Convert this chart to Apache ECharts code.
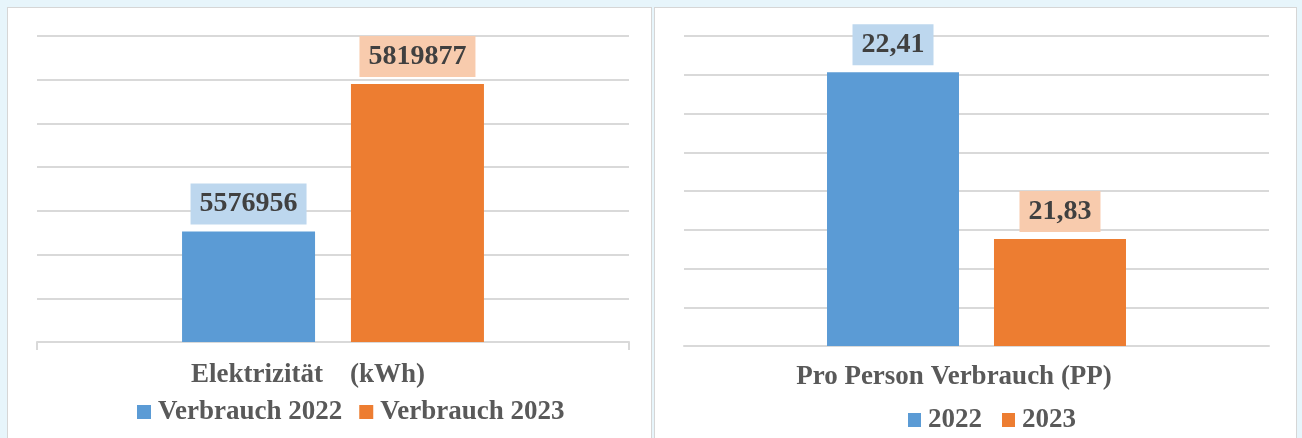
<!DOCTYPE html>
<html>
<head>
<meta charset="utf-8">
<script src="https://cdn.jsdelivr.net/npm/echarts/dist/echarts.min.js"></script>
<style>
  html, body { margin: 0; padding: 0; background: #e7f5fb; }
  .panel { position: absolute; top: 7px; height: 440px; background: #fff; border: 1px solid #d6d6d6; box-sizing: border-box; }
  #chart { position: absolute; left: 0; top: 0; width: 1302px; height: 438px; }
</style>
</head>
<body>
<div class="panel" style="left:7px;width:645px"></div>
<div class="panel" style="left:654px;width:643px"></div>
<div id="chart"></div>
<script>
// linke Grafik: Elektrizität
const leftCategories = ['Elektrizität    (kWh)']
const leftNames = ['Verbrauch 2022', 'Verbrauch 2023']
const leftValues = [5576956, 5819877]

// rechte Grafik: Verbrauch pro Person
const rightCategories = ['Pro Person Verbrauch (PP)']
const rightNames = ['2022', '2023']
const rightValues = [22.41, 21.83]

const barColors = ['#5b9bd5', '#ed7d31']
const labelBg = ['#bdd7ee', '#f8cbad']
const serif = "'Liberation Serif', 'Times New Roman', serif"
const gridColor = '#d9d9d9'

const chart = echarts.init(document.getElementById('chart'))

// Datenbeschriftung über dem Balken
function barLabel(i, fmt) {
  return {
    show: true,
    position: 'top',
    distance: 7,
    formatter: fmt,
    color: '#404040',
    fontFamily: serif,
    fontWeight: 'bold',
    fontSize: 28,
    lineHeight: 29,
    backgroundColor: labelBg[i],
    padding: [6, 9, 6, 9],
  }
}

function valueAxis(gridIndex, min, interval, steps) {
  return {
    type: 'value',
    gridIndex: gridIndex,
    min: min,
    max: min + interval * steps,
    interval: interval,
    axisLabel: { show: false },
    axisLine: { show: false },
    axisTick: { show: false },
    splitLine: { lineStyle: { color: gridColor, width: 2 } },
  }
}

const option = {
  animation: false,
  color: barColors,
  grid: [
    { left: 37, top: 36, width: 592, height: 306 },
    { left: 684, top: 36, width: 585, height: 310 },
  ],
  xAxis: [
    {
      type: 'category',
      gridIndex: 0,
      data: leftCategories,
      axisLine: { lineStyle: { color: gridColor, width: 2 } },
      axisTick: { show: true, length: 8, lineStyle: { color: gridColor, width: 2 } },
      axisLabel: {
        margin: 18,
        color: '#595959',
        fontFamily: serif,
        fontWeight: 'bold',
        fontSize: 27,
        lineHeight: 30,
        padding: [0, 50, 0, 0],
      },
    },
    {
      type: 'category',
      gridIndex: 1,
      data: rightCategories,
      axisLine: { lineStyle: { color: gridColor, width: 2 } },
      axisTick: { show: false },
      axisLabel: {
        margin: 16,
        color: '#595959',
        fontFamily: serif,
        fontWeight: 'bold',
        fontSize: 27,
        lineHeight: 30,
        padding: [0, 45, 0, 0],
      },
    },
  ],
  yAxis: [
    valueAxis(0, 5395200, 71936, 7),
    valueAxis(1, 21.45705, 0.13495, 8),
  ],
  legend: [
    {
      data: leftNames,
      left: 137,
      top: 398,
      padding: 0,
      itemWidth: 14,
      itemHeight: 14,
      itemGap: 17,
      icon: 'rect',
      textStyle: { color: '#595959', fontFamily: serif, fontWeight: 'bold', fontSize: 27, lineHeight: 28, padding: [0, 0, 0, 2] },
    },
    {
      data: rightNames,
      left: 908,
      top: 405,
      padding: 0,
      itemWidth: 13,
      itemHeight: 14,
      itemGap: 20,
      icon: 'rect',
      textStyle: { color: '#595959', fontFamily: serif, fontWeight: 'bold', fontSize: 27, lineHeight: 30, padding: [0, 0, 0, 2] },
    },
  ],
  series: [
    {
      name: leftNames[0], type: 'bar', xAxisIndex: 0, yAxisIndex: 0,
      data: [leftValues[0]], barWidth: 133, barGap: '27%',
      itemStyle: { color: barColors[0] },
      label: barLabel(0, p => String(p.value)),
    },
    {
      name: leftNames[1], type: 'bar', xAxisIndex: 0, yAxisIndex: 0,
      data: [leftValues[1]], barWidth: 133, barGap: '27%',
      itemStyle: { color: barColors[1] },
      label: barLabel(1, p => String(p.value)),
    },
    {
      name: rightNames[0], type: 'bar', xAxisIndex: 1, yAxisIndex: 1,
      data: [rightValues[0]], barWidth: 132, barGap: '26.5%',
      itemStyle: { color: barColors[0] },
      label: barLabel(0, p => p.value.toFixed(2).replace('.', ',')),
    },
    {
      name: rightNames[1], type: 'bar', xAxisIndex: 1, yAxisIndex: 1,
      data: [rightValues[1]], barWidth: 132, barGap: '26.5%',
      itemStyle: { color: barColors[1] },
      label: barLabel(1, p => p.value.toFixed(2).replace('.', ',')),
    },
  ],
}

chart.setOption(option)
</script>
</body>
</html>
